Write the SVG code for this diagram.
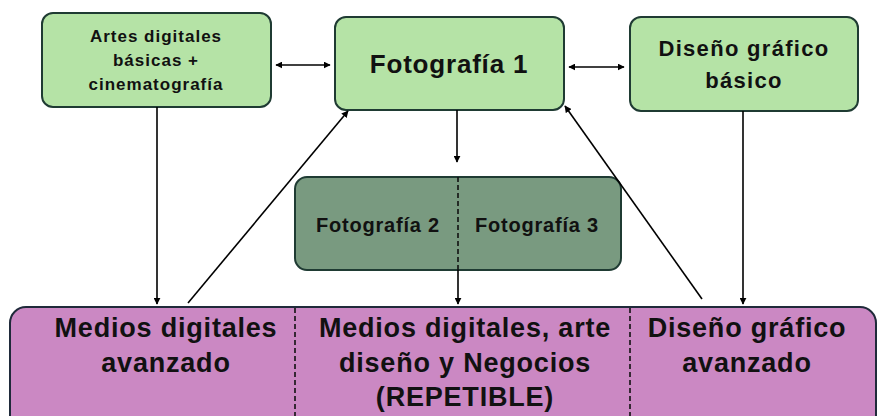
<svg xmlns="http://www.w3.org/2000/svg" width="877" height="416" viewBox="0 0 877 416">
<defs>
<marker id="ah" viewBox="0 0 10 10" refX="9" refY="5" markerWidth="7" markerHeight="7" orient="auto-start-reverse" markerUnits="userSpaceOnUse">
<path d="M0,0 L10,5 L0,10 z" fill="#000"/>
</marker>
<style>
.lg{fill:#b5e3a6;stroke:#1f3b33;stroke-width:2}
.dg{fill:#799a80;stroke:#1f3b33;stroke-width:2}
.pk{fill:#cb88c3;stroke:#1f2a3a;stroke-width:2}
.t{font-family:"Liberation Sans",Arial,sans-serif;font-weight:bold;fill:#111;text-anchor:middle}
.c{stroke:#000;stroke-width:1.6;fill:none}
.ds{stroke:#111;stroke-width:1.6;stroke-dasharray:5,3;fill:none}
.b{font-size:27px;letter-spacing:0.8px}
</style>
</defs>
<rect width="877" height="416" fill="#fff"/>
<g id="medios-avanzados">
<rect class="pk" x="10" y="307" width="866" height="130" rx="16"/>
<line class="ds" x1="295" y1="308" x2="295" y2="416"/>
<line class="ds" x1="630" y1="308" x2="630" y2="416"/>
<text class="t b" x="166" y="337">Medios digitales</text>
<text class="t b" x="166" y="372">avanzado</text>
<text class="t b" x="465" y="337">Medios digitales, arte</text>
<text class="t b" x="465" y="372">diseño y Negocios</text>
<text class="t b" x="465" y="406">(REPETIBLE)</text>
<text class="t b" x="747" y="337">Diseño gráfico</text>
<text class="t b" x="747" y="372">avanzado</text>
</g>
<g id="artes">
<rect class="lg" x="42" y="13" width="229" height="94" rx="11"/>
<text class="t" x="156" y="42" font-size="17" letter-spacing="1">Artes digitales</text>
<text class="t" x="156" y="66" font-size="17" letter-spacing="1">básicas +</text>
<text class="t" x="156" y="90" font-size="17" letter-spacing="1">cinematografía</text>
</g>
<g id="foto1">
<rect class="lg" x="335" y="17" width="229" height="93" rx="11"/>
<text class="t" x="449" y="73" font-size="26" letter-spacing="0.8">Fotografía 1</text>
</g>
<g id="diseno">
<rect class="lg" x="630" y="17" width="228" height="94" rx="11"/>
<text class="t" x="744" y="56" font-size="22" letter-spacing="1.3">Diseño gráfico</text>
<text class="t" x="744" y="88" font-size="22" letter-spacing="1.3">básico</text>
</g>
<g id="foto23">
<rect class="dg" x="295" y="177" width="326" height="93" rx="12"/>
<line class="ds" x1="458" y1="177" x2="458" y2="270"/>
<text class="t" x="378" y="232" font-size="20" letter-spacing="0.8">Fotografía 2</text>
<text class="t" x="537" y="232" font-size="20" letter-spacing="0.8">Fotografía 3</text>
</g>
<g id="connectors">
<line class="c" x1="276" y1="65" x2="330" y2="65" marker-start="url(#ah)" marker-end="url(#ah)"/>
<line class="c" x1="569" y1="67" x2="624" y2="67" marker-start="url(#ah)" marker-end="url(#ah)"/>
<line class="c" x1="157" y1="107" x2="157" y2="304" marker-end="url(#ah)"/>
<line class="c" x1="743" y1="111" x2="743" y2="304" marker-end="url(#ah)"/>
<line class="c" x1="457" y1="110" x2="457" y2="162" marker-end="url(#ah)"/>
<line class="c" x1="458" y1="270" x2="458" y2="304" marker-end="url(#ah)"/>
<line class="c" x1="188" y1="303" x2="348" y2="111" marker-end="url(#ah)"/>
<line class="c" x1="702" y1="299" x2="565" y2="106" marker-end="url(#ah)"/>
</g>
</svg>
